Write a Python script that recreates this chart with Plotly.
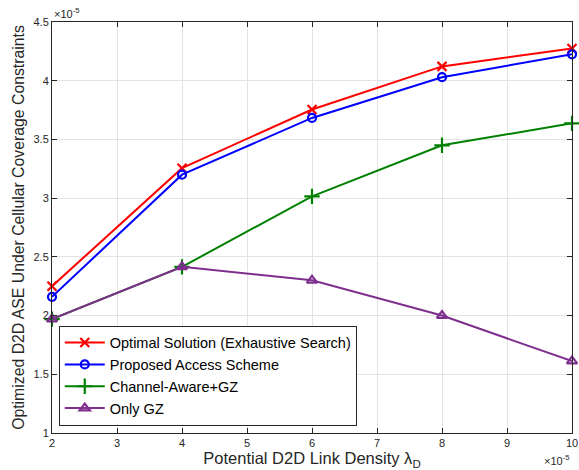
import plotly.graph_objects as go

x_vals = [2, 4, 6, 8, 10]
optimal = [2.25, 3.255, 3.755, 4.122, 4.275]
proposed = [2.16, 3.20, 3.683, 4.03, 4.225]
channel_gz = [1.97, 2.415, 3.015, 3.45, 3.637]
only_gz = [1.97, 2.415, 2.30, 2.00, 1.612]

names = ["Optimal Solution (Exhaustive Search)", "Proposed Access Scheme",
         "Channel-Aware+GZ", "Only GZ"]
colors = ["#FF0000", "#0000FF", "#008000", "#7E2F8E"]
symbols = ["x-thin-open", "circle-open", "cross-thin-open", "triangle-up-open"]
sizes = [9, 8, 11, 9]
series = [optimal, proposed, channel_gz, only_gz]

fig = go.Figure()
for name, ys, c, s, sz in zip(names, series, colors, symbols, sizes):
    fig.add_trace(go.Scatter(
        x=x_vals, y=ys, name=name, mode="lines+markers",
        line=dict(color=c, width=2),
        marker=dict(symbol=s, size=sz, color=c, line=dict(color=c, width=2.2)),
        cliponaxis=False,
    ))

font_family = "Liberation Sans, Arial, Helvetica, sans-serif"
axis_common = dict(
    showline=True, linecolor="#262626", linewidth=1, mirror="ticks",
    ticks="inside", ticklen=5, tickcolor="#262626", tickwidth=1,
    showgrid=True, gridcolor="#E3E3E3", gridwidth=1, zeroline=False,
    tickfont=dict(family=font_family, size=11, color="#262626"),
    automargin=False,
)

fig.update_layout(
    width=579, height=470,
    margin=dict(l=52, r=7, t=22, b=37),
    paper_bgcolor="white", plot_bgcolor="white",
    font=dict(family=font_family, color="#262626"),
    xaxis=dict(range=[2, 10], tickmode="array", tickvals=list(range(2, 11)),
               title=dict(text="Potential D2D Link Density λ<sub>D</sub>",
                          font=dict(size=16.5, color="#262626"), standoff=0),
               **axis_common),
    yaxis=dict(range=[1, 4.5], tickmode="array",
               tickvals=[1, 1.5, 2, 2.5, 3, 3.5, 4, 4.5],
               ticktext=["1", "1.5", "2", "2.5", "3", "3.5", "4", "4.5"],
               title=dict(text="Optimized D2D ASE Under Cellular Coverage Constraints",
                          font=dict(size=15.8, color="#262626"), standoff=4),
               **axis_common),
    legend=dict(x=0.013, y=0.018, xanchor="left", yanchor="bottom",
                bgcolor="white", bordercolor="#262626", borderwidth=1,
                font=dict(family=font_family, size=14.5, color="#000000"),
                tracegroupgap=0, itemwidth=40),
    showlegend=True,
    annotations=[
        dict(text="×10<sup>-5</sup>", xref="paper", yref="paper", x=0.0, y=1.0,
             xanchor="left", yanchor="bottom", showarrow=False,
             font=dict(size=11, color="#262626")),
        dict(text="×10<sup>-5</sup>", xref="paper", yref="paper", x=1.0, y=-0.045,
             xanchor="right", yanchor="top", showarrow=False,
             font=dict(size=11, color="#262626")),
    ],
)

fig.write_html("out.html")
